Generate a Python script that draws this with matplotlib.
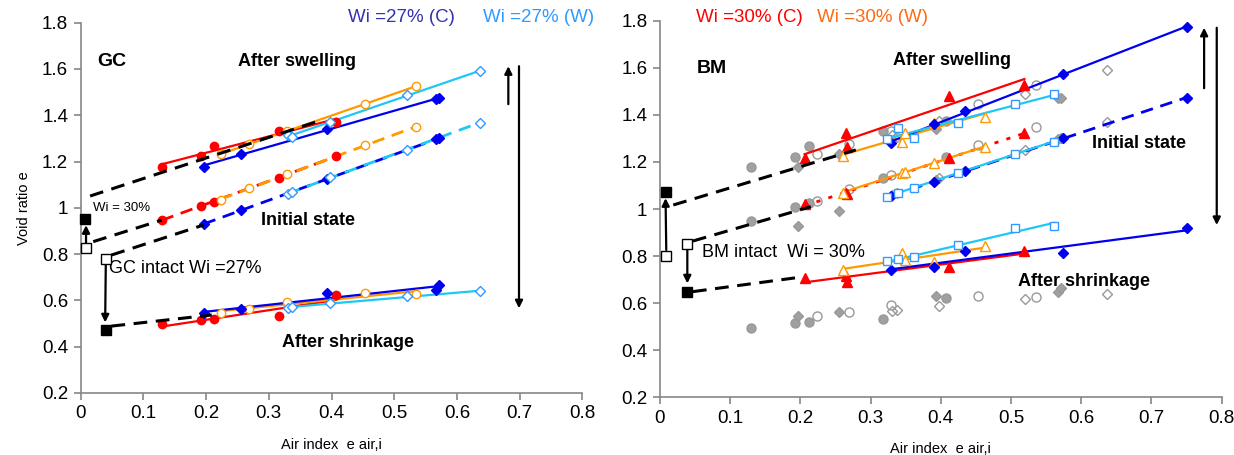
import numpy as np
import matplotlib.pyplot as plt
from matplotlib.ticker import FuncFormatter

plt.rcParams['font.family'] = ['Liberation Sans', 'DejaVu Sans']

# ---------------- GC panel data ----------------
# red = Wi 30% (C), orange = Wi 30% (W), blue = Wi 27% (C), light blue = Wi 27% (W)
gc_c30_x = [0.129, 0.192, 0.212, 0.317, 0.407]
gc_c30_swell = [1.177, 1.223, 1.267, 1.333, 1.372]
gc_c30_init = [0.947, 1.009, 1.027, 1.131, 1.223]
gc_c30_shrink = [0.496, 0.517, 0.519, 0.532, 0.624]

gc_w30_x = [0.223, 0.269, 0.329, 0.453, 0.535]
gc_w30_swell = [1.232, 1.275, 1.333, 1.448, 1.526]
gc_w30_init = [1.036, 1.084, 1.146, 1.271, 1.349]
gc_w30_shrink = [0.545, 0.564, 0.593, 0.632, 0.626]

gc_c27_x = [0.196, 0.255, 0.393, 0.567, 0.571]
gc_c27_swell = [1.177, 1.233, 1.342, 1.470, 1.473]
gc_c27_init = [0.929, 0.990, 1.124, 1.297, 1.300]
gc_c27_shrink = [0.545, 0.561, 0.632, 0.646, 0.665]

gc_w27_x = [0.330, 0.337, 0.398, 0.520, 0.637]
gc_w27_swell = [1.313, 1.307, 1.372, 1.487, 1.591]
gc_w27_init = [1.059, 1.068, 1.133, 1.252, 1.368]
gc_w27_shrink = [0.568, 0.571, 0.588, 0.619, 0.639]

# black extrapolations (x pairs, y pairs)
gc_ext_x = [[0.015, 0.376], [0.020, 0.129], [0.049, 0.196], [0.049, 0.209]]
gc_ext_y = [[1.051, 1.372], [0.854, 0.947], [0.796, 0.926], [0.489, 0.537]]
gc_sq_filled_x = [0.007, 0.041]
gc_sq_filled_y = [0.952, 0.472]
gc_sq_open_x = [0.0085, 0.040]
gc_sq_open_y = [0.825, 0.777]

# ---------------- BM panel data ----------------
bm_c30_x = [0.206, 0.265, 0.266, 0.411, 0.519]
bm_c30_swell = [1.218, 1.324, 1.265, 1.480, 1.527]
bm_c30_init = [1.022, 1.070, 1.064, 1.215, 1.324]
bm_c30_shrink = [0.707, 0.717, 0.689, 0.755, 0.823]

bm_w30_x = [0.261, 0.345, 0.349, 0.391, 0.463]
bm_w30_swell = [1.225, 1.286, 1.322, 1.367, 1.392]
bm_w30_init = [1.070, 1.152, 1.159, 1.197, 1.265]
bm_w30_shrink = [0.741, 0.811, 0.783, 0.775, 0.844]

bm_c27_x = [0.329, 0.391, 0.435, 0.574, 0.750]
bm_c27_swell = [1.279, 1.361, 1.416, 1.574, 1.772]
bm_c27_init = [1.055, 1.116, 1.162, 1.300, 1.473]
bm_c27_shrink = [0.741, 0.752, 0.823, 0.813, 0.918]

bm_w27_x = [0.324, 0.339, 0.362, 0.424, 0.506, 0.561]
bm_w27_swell = [1.296, 1.343, 1.303, 1.367, 1.446, 1.487]
bm_w27_init = [1.053, 1.070, 1.088, 1.155, 1.234, 1.286]
bm_w27_shrink = [0.777, 0.787, 0.794, 0.846, 0.921, 0.928]

bm_ext_x = [[0.019, 0.279], [0.047, 0.215], [0.047, 0.204]]
bm_ext_y = [[1.017, 1.251], [0.864, 1.010], [0.649, 0.712]]
bm_sq_filled_x = [0.008, 0.039]
bm_sq_filled_y = [1.071, 0.649]
bm_sq_open_x = [0.008, 0.039]
bm_sq_open_y = [0.800, 0.851]

RED = '#FF0000'
ORANGE = '#FF9900'
BLUE = '#0000F0'
LBLUE = '#1EC8F5'
LBLUE_M = '#3399FF'
GRAY = '#A0A0A0'

DASH = (0, (4.5, 2.8))
DOT = (0, (1.5, 3))


def series(ax, x, y, color, marker, filled, ls='-', lw=1.6, mec=None, ms=6):
    k, b = np.polyfit(x, y, 1)
    xl = np.array([min(x), max(x)])
    ax.plot(xl, k * xl + b, color=color, ls=ls, lw=lw, zorder=2)
    mc = mec or color
    ax.plot(x, y, ls='none', marker=marker, ms=ms, mec=mc,
            mfc=mc if filled else 'white', mew=1.0, zorder=3)


def gray_pts(ax, x, y, marker, filled, ms=6.5):
    ax.plot(x, y, ls='none', marker=marker, ms=ms, mec='#999999',
            mfc=GRAY if filled else 'none', mew=1.0, zorder=1)


def black_bits(ax, ext_x, ext_y, fx, fy, ox, oy):
    for xs, ys in zip(ext_x, ext_y):
        ax.plot(xs, ys, color='black', lw=2.2, ls=(0, (4.5, 2.8)), zorder=4)
    ax.plot(fx, fy, ls='none', marker='s', ms=7, mfc='black', mec='black',
            clip_on=False, zorder=5)
    ax.plot(ox, oy, ls='none', marker='s', ms=7, mfc='white', mec='black',
            mew=1.0, clip_on=False, zorder=5)


def arrow(ax, x0, y0, x1, y1, lw=1.6):
    ax.annotate('', xy=(x1, y1), xytext=(x0, y0),
                arrowprops=dict(arrowstyle='-|>', color='black', lw=lw,
                                mutation_scale=11, shrinkA=0, shrinkB=0),
                annotation_clip=False)


def style(ax):
    ax.set_xlim(0, 0.8)
    ax.set_ylim(0.2, 1.8)
    ax.set_xticks(np.arange(0, 0.81, 0.1))
    ax.set_yticks(np.arange(0.2, 1.81, 0.2))
    fmt = FuncFormatter(lambda v, p: '%g' % round(v, 2))
    ax.xaxis.set_major_formatter(fmt)
    ax.yaxis.set_major_formatter(fmt)
    for s in ['top', 'right']:
        ax.spines[s].set_visible(False)
    for s in ['left', 'bottom']:
        ax.spines[s].set_color('#868686')
        ax.spines[s].set_linewidth(1.2)
    ax.tick_params(direction='out', length=5, width=1.2, color='#868686',
                   labelsize=13.5, pad=4)
    ax.set_xlabel('Air index  e air,i', fontsize=10.5, labelpad=11)


fig = plt.figure(figsize=(12.34, 4.55), dpi=100)
ax1 = fig.add_axes([0.0654, 0.1363, 0.4065, 0.8138])
ax2 = fig.add_axes([0.5348, 0.1268, 0.4552, 0.8277])

# ---------------- GC ----------------
for ys, ls in [(gc_c30_swell, '-'), (gc_c30_init, DASH), (gc_c30_shrink, '-')]:
    series(ax1, gc_c30_x, ys, RED, 'o', True, ls=ls, lw=2 if ls != '-' else 1.6)
for ys, ls in [(gc_w30_swell, '-'), (gc_w30_init, DASH), (gc_w30_shrink, '-')]:
    series(ax1, gc_w30_x, ys, ORANGE, 'o', False, ls=ls, lw=2 if ls != '-' else 1.6)
for ys, ls in [(gc_c27_swell, '-'), (gc_c27_init, DASH), (gc_c27_shrink, '-')]:
    series(ax1, gc_c27_x, ys, BLUE, 'D', True, ls=ls, lw=2 if ls != '-' else 1.6, ms=5.5)
for ys, ls in [(gc_w27_swell, '-'), (gc_w27_init, DASH), (gc_w27_shrink, '-')]:
    series(ax1, gc_w27_x, ys, LBLUE, 'D', False, ls=ls, lw=2 if ls != '-' else 1.6,
           mec=LBLUE_M, ms=5.5)

black_bits(ax1, gc_ext_x, gc_ext_y, gc_sq_filled_x, gc_sq_filled_y,
           gc_sq_open_x, gc_sq_open_y)
arrow(ax1, 0.0085, 0.847, 0.0085, 0.925)
arrow(ax1, 0.040, 0.755, 0.039, 0.505)
arrow(ax1, 0.682, 1.448, 0.682, 1.612)
arrow(ax1, 0.699, 1.612, 0.699, 0.566)

ax1.text(0.026, 1.631, 'GC', fontsize=14, fontweight='bold', va='center')
ax1.text(0.3455, 1.634, 'After swelling', fontsize=13, fontweight='bold',
         ha='center', va='center')
ax1.text(0.363, 0.945, 'Initial state', fontsize=13, fontweight='bold',
         ha='center', va='center')
ax1.text(0.426, 0.416, 'After shrinkage', fontsize=13, fontweight='bold',
         ha='center', va='center')
ax1.text(0.0195, 1.0, 'Wi = 30%', fontsize=9.5, va='center')
ax1.text(0.045, 0.737, 'GC intact Wi =27%', fontsize=13, va='center')
ax1.text(0.426, 1.822, 'Wi =27% (C)', fontsize=13.5, color='#3333B0',
         va='center', clip_on=False)
ax1.text(0.641, 1.822, 'Wi =27% (W)', fontsize=13.5, color='#2E9BFF',
         va='center', clip_on=False)
ax1.set_ylabel('Void ratio e', fontsize=10.5, labelpad=8)
style(ax1)

# ---------------- BM ----------------
# GC data repeated in gray
for ys in [gc_c30_swell, gc_c30_init, gc_c30_shrink]:
    gray_pts(ax2, gc_c30_x, ys, 'o', True)
for ys in [gc_w30_swell, gc_w30_init, gc_w30_shrink]:
    gray_pts(ax2, gc_w30_x, ys, 'o', False)
for ys in [gc_c27_swell, gc_c27_init, gc_c27_shrink]:
    gray_pts(ax2, gc_c27_x, ys, 'D', True, ms=5.5)
for ys in [gc_w27_swell, gc_w27_init, gc_w27_shrink]:
    gray_pts(ax2, gc_w27_x, ys, 'D', False, ms=5.5)

for ys, ls in [(bm_c30_swell, '-'), (bm_c30_init, DOT), (bm_c30_shrink, '-')]:
    series(ax2, bm_c30_x, ys, RED, '^', True, ls=ls, lw=2 if ls != '-' else 1.6, ms=6.5)
for ys in [bm_w30_swell, bm_w30_init, bm_w30_shrink]:
    series(ax2, bm_w30_x, ys, ORANGE, '^', False, ms=6.5)
for ys, ls in [(bm_c27_swell, '-'), (bm_c27_init, DASH), (bm_c27_shrink, '-')]:
    series(ax2, bm_c27_x, ys, BLUE, 'D', True, ls=ls, lw=2 if ls != '-' else 1.6, ms=5.5)
for ys in [bm_w27_swell, bm_w27_init, bm_w27_shrink]:
    series(ax2, bm_w27_x, ys, LBLUE, 's', False, mec=LBLUE_M, ms=6)

black_bits(ax2, bm_ext_x, bm_ext_y, bm_sq_filled_x, bm_sq_filled_y,
           bm_sq_open_x, bm_sq_open_y)
arrow(ax2, 0.009, 0.826, 0.008, 1.046)
arrow(ax2, 0.039, 0.829, 0.039, 0.684)
arrow(ax2, 0.775, 1.513, 0.775, 1.770)
arrow(ax2, 0.793, 1.770, 0.793, 0.932)

ax2.text(0.052, 1.598, 'BM', fontsize=14, fontweight='bold', va='center')
ax2.text(0.416, 1.629, 'After swelling', fontsize=13, fontweight='bold',
         ha='center', va='center')
ax2.text(0.682, 1.279, 'Initial state', fontsize=13, fontweight='bold',
         ha='center', va='center')
ax2.text(0.604, 0.692, 'After shrinkage', fontsize=13, fontweight='bold',
         ha='center', va='center')
ax2.text(0.0605, 0.815, 'BM intact  Wi = 30%', fontsize=13, va='center')
ax2.text(0.052, 1.812, 'Wi =30% (C)', fontsize=13.5, color=RED,
         va='center', clip_on=False)
ax2.text(0.223, 1.812, 'Wi =30% (W)', fontsize=13.5, color='#FF6A13',
         va='center', clip_on=False)
style(ax2)

fig.savefig('out.png', dpi=100)
